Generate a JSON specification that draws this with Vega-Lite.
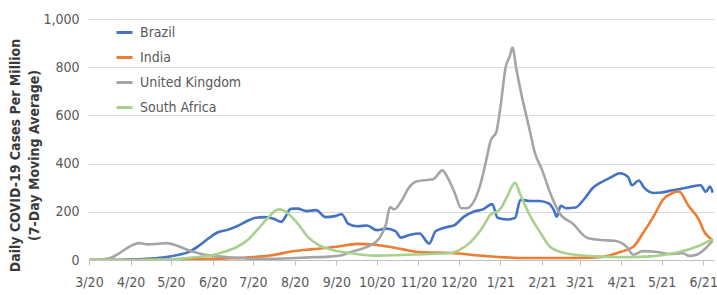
{
  "$schema": "https://vega.github.io/schema/vega-lite/v6.json",
  "width": 625,
  "height": 241,
  "autosize": {"type": "none"},
  "padding": {"left": 89, "top": 19, "right": 3, "bottom": 35},
  "background": "white",
  "config": {
    "font": "DejaVu Sans Condensed, DejaVu Sans, sans-serif",
    "view": {"stroke": null}
  },
  "datasets": {
    "d": [
      {"date": "2020-03-01", "country": "Brazil", "value": 0},
      {"date": "2020-03-20", "country": "Brazil", "value": 1},
      {"date": "2020-04-10", "country": "Brazil", "value": 4},
      {"date": "2020-04-25", "country": "Brazil", "value": 10},
      {"date": "2020-05-05", "country": "Brazil", "value": 20},
      {"date": "2020-05-15", "country": "Brazil", "value": 35},
      {"date": "2020-05-22", "country": "Brazil", "value": 60},
      {"date": "2020-05-29", "country": "Brazil", "value": 90},
      {"date": "2020-06-05", "country": "Brazil", "value": 115},
      {"date": "2020-06-12", "country": "Brazil", "value": 125},
      {"date": "2020-06-19", "country": "Brazil", "value": 140},
      {"date": "2020-06-26", "country": "Brazil", "value": 160},
      {"date": "2020-07-03", "country": "Brazil", "value": 175},
      {"date": "2020-07-10", "country": "Brazil", "value": 178},
      {"date": "2020-07-17", "country": "Brazil", "value": 170},
      {"date": "2020-07-22", "country": "Brazil", "value": 158},
      {"date": "2020-07-25", "country": "Brazil", "value": 178},
      {"date": "2020-07-29", "country": "Brazil", "value": 212},
      {"date": "2020-08-03", "country": "Brazil", "value": 213},
      {"date": "2020-08-10", "country": "Brazil", "value": 203},
      {"date": "2020-08-17", "country": "Brazil", "value": 207},
      {"date": "2020-08-24", "country": "Brazil", "value": 178},
      {"date": "2020-08-31", "country": "Brazil", "value": 182},
      {"date": "2020-09-05", "country": "Brazil", "value": 190},
      {"date": "2020-09-10", "country": "Brazil", "value": 150},
      {"date": "2020-09-17", "country": "Brazil", "value": 140},
      {"date": "2020-09-24", "country": "Brazil", "value": 143},
      {"date": "2020-10-01", "country": "Brazil", "value": 124},
      {"date": "2020-10-08", "country": "Brazil", "value": 130},
      {"date": "2020-10-15", "country": "Brazil", "value": 120},
      {"date": "2020-10-19", "country": "Brazil", "value": 93},
      {"date": "2020-10-26", "country": "Brazil", "value": 105},
      {"date": "2020-11-02", "country": "Brazil", "value": 110},
      {"date": "2020-11-09", "country": "Brazil", "value": 68},
      {"date": "2020-11-14", "country": "Brazil", "value": 120},
      {"date": "2020-11-21", "country": "Brazil", "value": 135},
      {"date": "2020-11-28", "country": "Brazil", "value": 145},
      {"date": "2020-12-05", "country": "Brazil", "value": 180},
      {"date": "2020-12-12", "country": "Brazil", "value": 200},
      {"date": "2020-12-19", "country": "Brazil", "value": 210},
      {"date": "2020-12-26", "country": "Brazil", "value": 232},
      {"date": "2020-12-30", "country": "Brazil", "value": 175},
      {"date": "2021-01-06", "country": "Brazil", "value": 168},
      {"date": "2021-01-12", "country": "Brazil", "value": 175},
      {"date": "2021-01-16", "country": "Brazil", "value": 250},
      {"date": "2021-01-23", "country": "Brazil", "value": 245},
      {"date": "2021-01-30", "country": "Brazil", "value": 245},
      {"date": "2021-02-06", "country": "Brazil", "value": 235},
      {"date": "2021-02-10", "country": "Brazil", "value": 205},
      {"date": "2021-02-12", "country": "Brazil", "value": 180},
      {"date": "2021-02-15", "country": "Brazil", "value": 225},
      {"date": "2021-02-19", "country": "Brazil", "value": 215},
      {"date": "2021-02-26", "country": "Brazil", "value": 218},
      {"date": "2021-03-04", "country": "Brazil", "value": 250},
      {"date": "2021-03-11", "country": "Brazil", "value": 300},
      {"date": "2021-03-18", "country": "Brazil", "value": 325},
      {"date": "2021-03-25", "country": "Brazil", "value": 345},
      {"date": "2021-03-31", "country": "Brazil", "value": 360},
      {"date": "2021-04-06", "country": "Brazil", "value": 345},
      {"date": "2021-04-09", "country": "Brazil", "value": 310},
      {"date": "2021-04-14", "country": "Brazil", "value": 330},
      {"date": "2021-04-18", "country": "Brazil", "value": 300},
      {"date": "2021-04-25", "country": "Brazil", "value": 278},
      {"date": "2021-05-01", "country": "Brazil", "value": 280},
      {"date": "2021-05-08", "country": "Brazil", "value": 288},
      {"date": "2021-05-15", "country": "Brazil", "value": 295},
      {"date": "2021-05-22", "country": "Brazil", "value": 303},
      {"date": "2021-05-30", "country": "Brazil", "value": 310},
      {"date": "2021-06-03", "country": "Brazil", "value": 283},
      {"date": "2021-06-06", "country": "Brazil", "value": 305},
      {"date": "2021-06-08", "country": "Brazil", "value": 280},

      {"date": "2020-03-01", "country": "India", "value": 0},
      {"date": "2020-04-01", "country": "India", "value": 0},
      {"date": "2020-05-01", "country": "India", "value": 1},
      {"date": "2020-06-01", "country": "India", "value": 5},
      {"date": "2020-06-15", "country": "India", "value": 7},
      {"date": "2020-07-01", "country": "India", "value": 12},
      {"date": "2020-07-15", "country": "India", "value": 20},
      {"date": "2020-08-01", "country": "India", "value": 37},
      {"date": "2020-08-15", "country": "India", "value": 45},
      {"date": "2020-09-01", "country": "India", "value": 55},
      {"date": "2020-09-17", "country": "India", "value": 67},
      {"date": "2020-09-29", "country": "India", "value": 63},
      {"date": "2020-10-10", "country": "India", "value": 55},
      {"date": "2020-10-20", "country": "India", "value": 45},
      {"date": "2020-11-02", "country": "India", "value": 33},
      {"date": "2020-11-25", "country": "India", "value": 29},
      {"date": "2020-12-20", "country": "India", "value": 17},
      {"date": "2021-01-01", "country": "India", "value": 12},
      {"date": "2021-01-25", "country": "India", "value": 8},
      {"date": "2021-02-20", "country": "India", "value": 8},
      {"date": "2021-03-10", "country": "India", "value": 10},
      {"date": "2021-03-20", "country": "India", "value": 15},
      {"date": "2021-03-31", "country": "India", "value": 33},
      {"date": "2021-04-10", "country": "India", "value": 55},
      {"date": "2021-04-17", "country": "India", "value": 110},
      {"date": "2021-04-25", "country": "India", "value": 180},
      {"date": "2021-05-02", "country": "India", "value": 250},
      {"date": "2021-05-09", "country": "India", "value": 278},
      {"date": "2021-05-14", "country": "India", "value": 284},
      {"date": "2021-05-21", "country": "India", "value": 225},
      {"date": "2021-05-29", "country": "India", "value": 165},
      {"date": "2021-06-01", "country": "India", "value": 125},
      {"date": "2021-06-08", "country": "India", "value": 83},

      {"date": "2020-03-01", "country": "United Kingdom", "value": 0},
      {"date": "2020-03-10", "country": "United Kingdom", "value": 2},
      {"date": "2020-03-17", "country": "United Kingdom", "value": 8},
      {"date": "2020-03-24", "country": "United Kingdom", "value": 30},
      {"date": "2020-03-31", "country": "United Kingdom", "value": 55},
      {"date": "2020-04-07", "country": "United Kingdom", "value": 70},
      {"date": "2020-04-14", "country": "United Kingdom", "value": 65},
      {"date": "2020-04-21", "country": "United Kingdom", "value": 67},
      {"date": "2020-04-28", "country": "United Kingdom", "value": 70},
      {"date": "2020-05-05", "country": "United Kingdom", "value": 60},
      {"date": "2020-05-12", "country": "United Kingdom", "value": 45},
      {"date": "2020-05-19", "country": "United Kingdom", "value": 32},
      {"date": "2020-05-26", "country": "United Kingdom", "value": 22},
      {"date": "2020-06-02", "country": "United Kingdom", "value": 17},
      {"date": "2020-06-09", "country": "United Kingdom", "value": 13},
      {"date": "2020-06-16", "country": "United Kingdom", "value": 10},
      {"date": "2020-06-23", "country": "United Kingdom", "value": 8},
      {"date": "2020-07-01", "country": "United Kingdom", "value": 5},
      {"date": "2020-07-15", "country": "United Kingdom", "value": 5},
      {"date": "2020-07-29", "country": "United Kingdom", "value": 7},
      {"date": "2020-08-12", "country": "United Kingdom", "value": 11},
      {"date": "2020-08-26", "country": "United Kingdom", "value": 14},
      {"date": "2020-09-05", "country": "United Kingdom", "value": 20},
      {"date": "2020-09-12", "country": "United Kingdom", "value": 33},
      {"date": "2020-09-19", "country": "United Kingdom", "value": 45},
      {"date": "2020-09-26", "country": "United Kingdom", "value": 60},
      {"date": "2020-10-03", "country": "United Kingdom", "value": 90},
      {"date": "2020-10-08", "country": "United Kingdom", "value": 150},
      {"date": "2020-10-11", "country": "United Kingdom", "value": 220},
      {"date": "2020-10-14", "country": "United Kingdom", "value": 210},
      {"date": "2020-10-20", "country": "United Kingdom", "value": 250},
      {"date": "2020-10-25", "country": "United Kingdom", "value": 300},
      {"date": "2020-10-30", "country": "United Kingdom", "value": 325},
      {"date": "2020-11-07", "country": "United Kingdom", "value": 332},
      {"date": "2020-11-12", "country": "United Kingdom", "value": 335},
      {"date": "2020-11-19", "country": "United Kingdom", "value": 372},
      {"date": "2020-11-23", "country": "United Kingdom", "value": 340},
      {"date": "2020-11-28", "country": "United Kingdom", "value": 280},
      {"date": "2020-12-03", "country": "United Kingdom", "value": 215},
      {"date": "2020-12-07", "country": "United Kingdom", "value": 215},
      {"date": "2020-12-12", "country": "United Kingdom", "value": 240},
      {"date": "2020-12-17", "country": "United Kingdom", "value": 310},
      {"date": "2020-12-21", "country": "United Kingdom", "value": 400},
      {"date": "2020-12-25", "country": "United Kingdom", "value": 498},
      {"date": "2020-12-29", "country": "United Kingdom", "value": 530},
      {"date": "2021-01-01", "country": "United Kingdom", "value": 630},
      {"date": "2021-01-05", "country": "United Kingdom", "value": 800},
      {"date": "2021-01-08", "country": "United Kingdom", "value": 845},
      {"date": "2021-01-10", "country": "United Kingdom", "value": 882},
      {"date": "2021-01-13", "country": "United Kingdom", "value": 790},
      {"date": "2021-01-17", "country": "United Kingdom", "value": 680},
      {"date": "2021-01-22", "country": "United Kingdom", "value": 560},
      {"date": "2021-01-27", "country": "United Kingdom", "value": 440},
      {"date": "2021-02-01", "country": "United Kingdom", "value": 375},
      {"date": "2021-02-07", "country": "United Kingdom", "value": 280},
      {"date": "2021-02-14", "country": "United Kingdom", "value": 195},
      {"date": "2021-02-24", "country": "United Kingdom", "value": 150},
      {"date": "2021-03-07", "country": "United Kingdom", "value": 91},
      {"date": "2021-03-17", "country": "United Kingdom", "value": 83},
      {"date": "2021-03-27", "country": "United Kingdom", "value": 80},
      {"date": "2021-04-05", "country": "United Kingdom", "value": 55},
      {"date": "2021-04-10", "country": "United Kingdom", "value": 22},
      {"date": "2021-04-17", "country": "United Kingdom", "value": 37},
      {"date": "2021-04-28", "country": "United Kingdom", "value": 33},
      {"date": "2021-05-07", "country": "United Kingdom", "value": 25},
      {"date": "2021-05-17", "country": "United Kingdom", "value": 28},
      {"date": "2021-05-21", "country": "United Kingdom", "value": 17},
      {"date": "2021-05-27", "country": "United Kingdom", "value": 22},
      {"date": "2021-06-03", "country": "United Kingdom", "value": 50},
      {"date": "2021-06-08", "country": "United Kingdom", "value": 80},

      {"date": "2020-03-01", "country": "South Africa", "value": 0},
      {"date": "2020-04-01", "country": "South Africa", "value": 0},
      {"date": "2020-05-01", "country": "South Africa", "value": 3},
      {"date": "2020-05-20", "country": "South Africa", "value": 12},
      {"date": "2020-06-01", "country": "South Africa", "value": 20},
      {"date": "2020-06-09", "country": "South Africa", "value": 33},
      {"date": "2020-06-19", "country": "South Africa", "value": 54},
      {"date": "2020-06-27", "country": "South Africa", "value": 83},
      {"date": "2020-07-04", "country": "South Africa", "value": 124},
      {"date": "2020-07-12", "country": "South Africa", "value": 174},
      {"date": "2020-07-20", "country": "South Africa", "value": 210},
      {"date": "2020-07-24", "country": "South Africa", "value": 205},
      {"date": "2020-08-03", "country": "South Africa", "value": 153},
      {"date": "2020-08-11", "country": "South Africa", "value": 95},
      {"date": "2020-08-19", "country": "South Africa", "value": 62},
      {"date": "2020-08-29", "country": "South Africa", "value": 42},
      {"date": "2020-09-11", "country": "South Africa", "value": 29},
      {"date": "2020-09-29", "country": "South Africa", "value": 18},
      {"date": "2020-10-19", "country": "South Africa", "value": 21},
      {"date": "2020-11-10", "country": "South Africa", "value": 25},
      {"date": "2020-11-25", "country": "South Africa", "value": 29},
      {"date": "2020-12-01", "country": "South Africa", "value": 40},
      {"date": "2020-12-09", "country": "South Africa", "value": 70},
      {"date": "2020-12-19", "country": "South Africa", "value": 137},
      {"date": "2020-12-25", "country": "South Africa", "value": 190},
      {"date": "2020-12-29", "country": "South Africa", "value": 200},
      {"date": "2021-01-01", "country": "South Africa", "value": 212},
      {"date": "2021-01-06", "country": "South Africa", "value": 262},
      {"date": "2021-01-12", "country": "South Africa", "value": 320},
      {"date": "2021-01-16", "country": "South Africa", "value": 270},
      {"date": "2021-01-23", "country": "South Africa", "value": 185},
      {"date": "2021-01-31", "country": "South Africa", "value": 112},
      {"date": "2021-02-07", "country": "South Africa", "value": 55},
      {"date": "2021-02-17", "country": "South Africa", "value": 30},
      {"date": "2021-03-01", "country": "South Africa", "value": 20},
      {"date": "2021-03-31", "country": "South Africa", "value": 12},
      {"date": "2021-04-10", "country": "South Africa", "value": 12},
      {"date": "2021-05-01", "country": "South Africa", "value": 20},
      {"date": "2021-05-14", "country": "South Africa", "value": 33},
      {"date": "2021-05-27", "country": "South Africa", "value": 55},
      {"date": "2021-06-08", "country": "South Africa", "value": 87}
    ]
  },
  "data": {"name": "d"},
  "mark": {"type": "line", "strokeWidth": 2.6, "interpolate": "monotone", "clip": true},
  "encoding": {
    "x": {
      "field": "date",
      "type": "temporal",
      "scale": {"type": "utc", "domain": ["2020-03-01", "2021-06-09"], "nice": false},
      "axis": {
        "title": null,
        "labelExpr": "(utcmonth(datum.value) + 1) + '/' + (utcyear(datum.value) % 100)",
        "tickCount": {"interval": "month", "step": 1},
        "grid": false,
        "domainColor": "#bfbfbf",
        "domainWidth": 1,
        "tickColor": "#bfbfbf",
        "tickSize": 5,
        "labelFontSize": 14,
        "labelColor": "#595959",
        "labelPadding": 10,
        "labelFlush": false,
        "labelOverlap": false
      }
    },
    "y": {
      "field": "value",
      "type": "quantitative",
      "scale": {"domain": [0, 1000], "nice": false},
      "axis": {
        "values": [0, 200, 400, 600, 800, 1000],
        "labelExpr": "datum.value >= 1000 ? '1,000' : '' + datum.value",
        "domain": false,
        "ticks": false,
        "gridColor": "#d9d9d9",
        "gridWidth": 1,
        "labelFontSize": 14,
        "labelColor": "#595959",
        "labelPadding": 10,
        "title": ["Daily COVID-19 Cases Per Million", "(7-Day Moving Average)"],
        "titleFontSize": 14,
        "titleFontWeight": "bold",
        "titleColor": "#3a3a3a",
        "titleLineHeight": 19,
        "titleAngle": -90,
        "titleAlign": "center",
        "titleBaseline": "top",
        "titleX": -81,
        "titleY": 136
      }
    },
    "color": {
      "field": "country",
      "type": "nominal",
      "sort": ["Brazil", "India", "United Kingdom", "South Africa"],
      "scale": {
        "domain": ["Brazil", "India", "United Kingdom", "South Africa"],
        "range": ["#4472C4", "#ED7D31", "#A5A5A5", "#A9D18E"]
      },
      "legend": {
        "title": null,
        "orient": "none",
        "legendX": 26,
        "legendY": 4,
        "padding": 0,
        "symbolType": "stroke",
        "symbolSize": 256,
        "symbolStrokeWidth": 3,
        "labelFontSize": 14,
        "labelColor": "#595959",
        "labelOffset": 6,
        "rowPadding": 8
      }
    }
  }
}
